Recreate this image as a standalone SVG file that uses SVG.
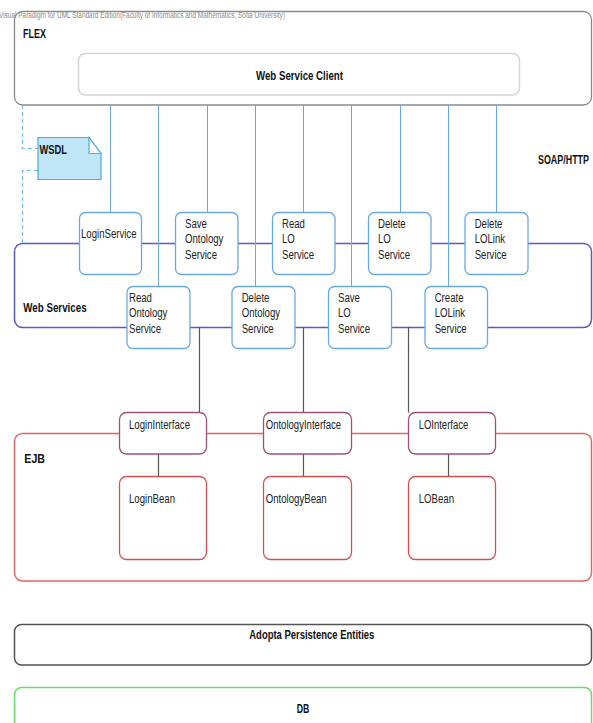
<svg xmlns="http://www.w3.org/2000/svg" width="593" height="723" viewBox="0 0 593 723">
<style>
.t{font-family:"Liberation Sans",Arial,sans-serif;font-size:12px;fill:#222}
.b{font-family:"Liberation Sans",Arial,sans-serif;font-size:13px;font-weight:bold;fill:#111}
.svc{fill:#fff;stroke:#6aaae0;stroke-width:1.3}
.iface{fill:#fff;stroke:#a0507a;stroke-width:1.3}
.bean{fill:#fff;stroke:#d65050;stroke-width:1.3}
.blue{stroke:#6aaae0;stroke-width:1;fill:none}
.dark{stroke:#555;stroke-width:1.2;fill:none}
</style>
<rect width="593" height="723" fill="#fff"/>

<g id="flex">
<rect x="14.5" y="11.5" width="577" height="93.5" rx="8" fill="#fff" stroke="#8a8a8a" stroke-width="1.3"/>
<text class="b" x="23" y="37.5" textLength="23" lengthAdjust="spacingAndGlyphs" style="font-size:12px">FLEX</text>
</g>
<text x="-1" y="18" style="font-family:'Liberation Sans',Arial,sans-serif;font-size:8.5px;fill:#8a8a8a" textLength="286" lengthAdjust="spacingAndGlyphs">Visual Paradigm for UML Standard Edition(Faculty of Informatics and Mathematics, Sofia University)</text>
<g id="web-service-client">
<rect x="78.5" y="53.5" width="441" height="41.5" rx="7" fill="#fff" stroke="#d4d4d4" stroke-width="1.5"/>
<text class="b" x="256" y="80" textLength="87" lengthAdjust="spacingAndGlyphs">Web Service Client</text>
</g>

<g id="web-services">
<rect x="14.5" y="243.5" width="577" height="84" rx="8" fill="none" stroke="#5a5ac8" stroke-width="1.5"/>
<text class="b" x="23.3" y="312" textLength="63.3" lengthAdjust="spacingAndGlyphs">Web Services</text>
</g>

<g id="ejb">
<rect x="14.5" y="433.5" width="577" height="147.5" rx="8" fill="none" stroke="#e06666" stroke-width="1.5"/>
<text class="b" x="24.3" y="463" textLength="20.7" lengthAdjust="spacingAndGlyphs">EJB</text>
</g>

<g id="connectors">
<path class="blue" d="M110.5,105V212.5 M207.5,105V212.5 M303.5,105V212.5 M400.5,105V212.5 M496.5,105V212.5 M158.5,105V286.5 M255.5,105V286.5 M351.5,105V286.5 M448.5,105V286.5"/>
<path d="M22.5,105V148.5H38 M38,170.5H22.5V243" fill="none" stroke="#6cbde8" stroke-width="1.2" stroke-dasharray="4,3"/>
<path class="dark" d="M199.5,327V412.5 M303.5,327V412.5 M408.5,327V412.5 M158.5,454V476.5 M303.5,454V476.5 M448.5,454V476.5"/>
</g>

<g id="wsdl">
<path d="M38,137.5H89L101,153.5V179.5H38Z" fill="#bfe5f6" stroke="#4aaee0" stroke-width="1.2"/>
<path d="M89,137.5V153.5H101Z" fill="#fff" stroke="#4aaee0" stroke-width="1.2"/>
<text class="b" x="39.5" y="153.5" textLength="27.5" lengthAdjust="spacingAndGlyphs" style="font-size:12px">WSDL</text>
</g>
<g id="soap-http">
<text class="b" transform="translate(538,164) scale(1,1.26)" x="0" y="0" textLength="51" lengthAdjust="spacingAndGlyphs" style="font-size:9.5px">SOAP/HTTP</text>
</g>

<g id="login-service">
<rect class="svc" x="79.5" y="212.5" width="62" height="62" rx="6"/>
<text class="t" x="81" y="237.5" textLength="55.5" lengthAdjust="spacingAndGlyphs">LoginService</text>
</g>
<g id="save-ontology-service">
<rect class="svc" x="175.5" y="212.5" width="62.5" height="62" rx="6"/>
<text class="t" x="185" y="227.5" textLength="21.9" lengthAdjust="spacingAndGlyphs">Save</text>
<text class="t" x="185" y="243" textLength="38.4" lengthAdjust="spacingAndGlyphs">Ontology</text>
<text class="t" x="185" y="258.5" textLength="32" lengthAdjust="spacingAndGlyphs">Service</text>
</g>
<g id="read-lo-service">
<rect class="svc" x="272.5" y="212.5" width="62.5" height="62" rx="6"/>
<text class="t" x="282" y="227.5" textLength="22.9" lengthAdjust="spacingAndGlyphs">Read</text>
<text class="t" x="282" y="243" textLength="12.8" lengthAdjust="spacingAndGlyphs">LO</text>
<text class="t" x="282" y="258.5" textLength="32" lengthAdjust="spacingAndGlyphs">Service</text>
</g>
<g id="delete-lo-service">
<rect class="svc" x="368.5" y="212.5" width="62.5" height="62" rx="6"/>
<text class="t" x="378" y="227.5" textLength="27.7" lengthAdjust="spacingAndGlyphs">Delete</text>
<text class="t" x="378" y="243" textLength="12.8" lengthAdjust="spacingAndGlyphs">LO</text>
<text class="t" x="378" y="258.5" textLength="32" lengthAdjust="spacingAndGlyphs">Service</text>
</g>
<g id="delete-lolink-service">
<rect class="svc" x="465" y="212.5" width="63" height="62" rx="6"/>
<text class="t" x="474.7" y="227.5" textLength="27.7" lengthAdjust="spacingAndGlyphs">Delete</text>
<text class="t" x="474.7" y="243" textLength="30.4" lengthAdjust="spacingAndGlyphs">LOLink</text>
<text class="t" x="474.7" y="258.5" textLength="32" lengthAdjust="spacingAndGlyphs">Service</text>
</g>
<g id="read-ontology-service">
<rect class="svc" x="127" y="286.5" width="63" height="62" rx="6"/>
<text class="t" x="129" y="301.5" textLength="22.9" lengthAdjust="spacingAndGlyphs">Read</text>
<text class="t" x="129" y="317" textLength="38.4" lengthAdjust="spacingAndGlyphs">Ontology</text>
<text class="t" x="129" y="332.5" textLength="32" lengthAdjust="spacingAndGlyphs">Service</text>
</g>
<g id="delete-ontology-service">
<rect class="svc" x="232" y="286.5" width="63" height="62" rx="6"/>
<text class="t" x="241.7" y="301.5" textLength="27.7" lengthAdjust="spacingAndGlyphs">Delete</text>
<text class="t" x="241.7" y="317" textLength="38.4" lengthAdjust="spacingAndGlyphs">Ontology</text>
<text class="t" x="241.7" y="332.5" textLength="32" lengthAdjust="spacingAndGlyphs">Service</text>
</g>
<g id="save-lo-service">
<rect class="svc" x="328.5" y="286.5" width="63" height="62" rx="6"/>
<text class="t" x="338" y="301.5" textLength="21.9" lengthAdjust="spacingAndGlyphs">Save</text>
<text class="t" x="338" y="317" textLength="12.8" lengthAdjust="spacingAndGlyphs">LO</text>
<text class="t" x="338" y="332.5" textLength="32" lengthAdjust="spacingAndGlyphs">Service</text>
</g>
<g id="create-lolink-service">
<rect class="svc" x="425" y="286.5" width="62.5" height="62" rx="6"/>
<text class="t" x="434.7" y="301.5" textLength="28.8" lengthAdjust="spacingAndGlyphs">Create</text>
<text class="t" x="434.7" y="317" textLength="30.4" lengthAdjust="spacingAndGlyphs">LOLink</text>
<text class="t" x="434.7" y="332.5" textLength="32" lengthAdjust="spacingAndGlyphs">Service</text>
</g>

<g id="login-interface">
<rect class="iface" x="119.5" y="412.5" width="87" height="41.5" rx="7"/>
<text class="t" x="129" y="428.5" textLength="61" lengthAdjust="spacingAndGlyphs">LoginInterface</text>
</g>
<g id="ontology-interface">
<rect class="iface" x="263.5" y="412.5" width="88" height="41.5" rx="7"/>
<text class="t" x="265.7" y="428.5" textLength="75.5" lengthAdjust="spacingAndGlyphs">OntologyInterface</text>
</g>
<g id="lo-interface">
<rect class="iface" x="408.5" y="412.5" width="87" height="41.5" rx="7"/>
<text class="t" x="418.7" y="428.5" textLength="49.5" lengthAdjust="spacingAndGlyphs">LOInterface</text>
</g>
<g id="login-bean">
<rect class="bean" x="119.5" y="476.5" width="87" height="83" rx="7"/>
<text class="t" x="129" y="502.7" textLength="46" lengthAdjust="spacingAndGlyphs">LoginBean</text>
</g>
<g id="ontology-bean">
<rect class="bean" x="263.5" y="476.5" width="88" height="83" rx="7"/>
<text class="t" x="265.7" y="502.7" textLength="61" lengthAdjust="spacingAndGlyphs">OntologyBean</text>
</g>
<g id="lo-bean">
<rect class="bean" x="408.5" y="476.5" width="87" height="83" rx="7"/>
<text class="t" x="418.7" y="502.7" textLength="35.3" lengthAdjust="spacingAndGlyphs">LOBean</text>
</g>

<g id="adopta-persistence-entities">
<rect x="14.5" y="624.5" width="577" height="40.5" rx="7" fill="#fff" stroke="#555" stroke-width="1.5"/>
<text class="b" x="249.3" y="639" textLength="125" lengthAdjust="spacingAndGlyphs" style="font-size:12.5px">Adopta Persistence Entities</text>
</g>
<g id="db">
<rect x="14.5" y="687.5" width="577" height="60" rx="7" fill="#fff" stroke="#66dd66" stroke-width="1.5"/>
<text class="b" x="296.7" y="712.7" textLength="12.6" lengthAdjust="spacingAndGlyphs">DB</text>
</g>
</svg>
